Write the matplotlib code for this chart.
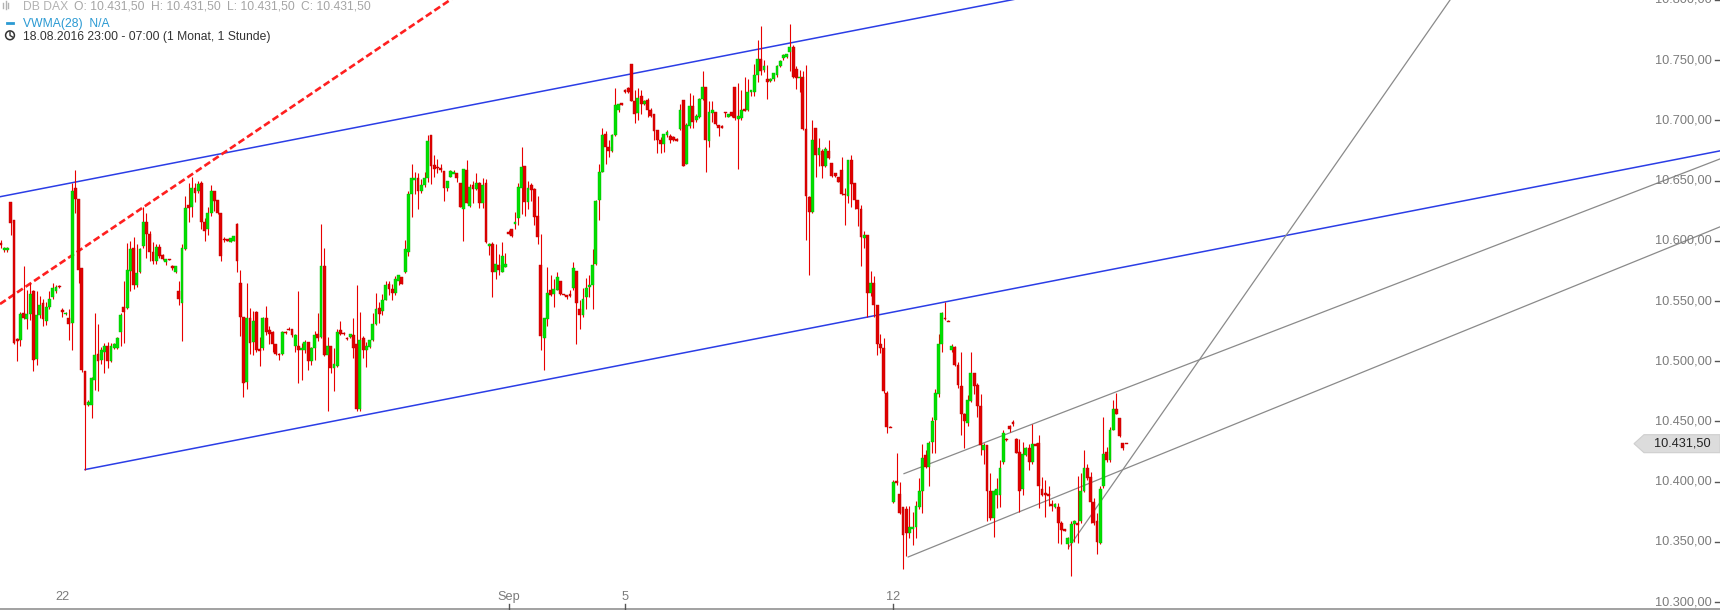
import matplotlib
matplotlib.use('Agg')
import matplotlib.pyplot as plt
import numpy as np
from matplotlib.patches import Polygon, Circle
from matplotlib.lines import Line2D
from matplotlib.transforms import blended_transform_factory, IdentityTransform

plt.rcParams['font.family'] = ['Liberation Sans', 'DejaVu Sans']
plt.rcParams['lines.scale_dashes'] = False

# hourly candles, DB DAX, 19.08. - 16.09.2016
opens = [
    10598, 10592, 10592, 10632, 10617, 10518, 10518, 10540, 10535, 10539,
    10558, 10502, 10538, 10548, 10533, 10545, 10553, 10558, 10562, 10542,
    10539, 10536, 10532, 10644, 10635, 10577, 10492, 10464, 10464, 10484,
    10506, 10501, 10508, 10513, 10500, 10511, 10511, 10524, 10545, 10544,
    10575, 10594, 10563, 10574, 10596, 10616, 10606, 10591, 10583, 10595,
    10588, 10582, 10585, 10579, 10574, 10558, 10548, 10593, 10630, 10628,
    10644, 10641, 10648, 10616, 10610, 10623, 10641, 10634, 10623, 10601,
    10601, 10599, 10600, 10614, 10565, 10537, 10483, 10536, 10516, 10541,
    10510, 10511, 10536, 10526, 10524, 10514, 10506, 10506, 10524, 10527,
    10527, 10513, 10513, 10509, 10509, 10516, 10500, 10511, 10523, 10520,
    10579, 10505, 10513, 10494, 10496, 10526, 10523, 10519, 10520, 10522,
    10514, 10460, 10519, 10509, 10512, 10518, 10531, 10544, 10542, 10551,
    10564, 10560, 10557, 10567, 10570, 10574, 10591, 10639, 10651, 10652,
    10641, 10646, 10652, 10688, 10663, 10661, 10660, 10658, 10644, 10653,
    10656, 10656, 10648, 10626, 10659, 10629, 10646, 10643, 10648, 10631,
    10648, 10596, 10597, 10574, 10580, 10574, 10578, 10607, 10610, 10614,
    10619, 10644, 10662, 10632, 10646, 10643, 10621, 10580, 10519, 10535,
    10559, 10556, 10559, 10567, 10556, 10554, 10556, 10561, 10575, 10543,
    10538, 10553, 10562, 10563, 10581, 10634, 10657, 10689, 10678, 10675,
    10688, 10709, 10714, 10725, 10727, 10747, 10716, 10706, 10720, 10714,
    10717, 10709, 10705, 10692, 10684, 10680, 10688, 10687, 10686, 10684,
    10693, 10717, 10664, 10695, 10712, 10700, 10703, 10718, 10728, 10683,
    10706, 10707, 10696, 10695, 10707, 10703, 10707, 10728, 10701, 10702,
    10709, 10709, 10724, 10724, 10738, 10751, 10742, 10734, 10733, 10734,
    10738, 10745, 10752, 10753, 10757, 10761, 10743, 10735, 10736, 10693,
    10636, 10624, 10694, 10671, 10675, 10662, 10675, 10665, 10656, 10653,
    10659, 10639, 10637, 10667, 10648, 10634, 10626, 10602, 10605, 10557,
    10565, 10547, 10514, 10511, 10474, 10445, 10383, 10400, 10390, 10379,
    10377, 10357, 10361, 10362, 10379, 10392, 10422, 10412, 10433, 10451,
    10473, 10514, 10536, 10533, 10509, 10512, 10497, 10479, 10456, 10449,
    10467, 10490, 10480, 10463, 10426, 10430, 10392, 10370, 10389, 10389,
    10416, 10435, 10446, 10449, 10435, 10425, 10394, 10422, 10428, 10416,
    10431, 10432, 10394, 10390, 10390, 10381, 10379, 10379, 10366, 10360,
    10348, 10349, 10365, 10366, 10367, 10392, 10411, 10404, 10383, 10367,
    10349, 10396, 10425, 10418, 10443, 10460, 10453, 10432, 10431.5,
]
highs = [
    10601, 10595, 10595, 10632, 10617, 10519, 10541, 10579, 10559, 10565,
    10559, 10558, 10554, 10552, 10549, 10558, 10565, 10563, 10563, 10544,
    10541, 10543, 10648, 10659, 10635, 10577, 10492, 10468, 10487, 10540,
    10531, 10512, 10515, 10516, 10515, 10515, 10520, 10540, 10567, 10598,
    10600, 10603, 10597, 10594, 10628, 10623, 10608, 10599, 10597, 10597,
    10589, 10585, 10585, 10580, 10579, 10567, 10597, 10637, 10648, 10653,
    10648, 10650, 10650, 10619, 10628, 10646, 10641, 10634, 10623, 10603,
    10601, 10602, 10604, 10615, 10576, 10537, 10565, 10544, 10542, 10542,
    10520, 10537, 10546, 10529, 10525, 10514, 10507, 10525, 10525, 10528,
    10527, 10523, 10558, 10515, 10518, 10516, 10512, 10525, 10540, 10614,
    10594, 10520, 10513, 10511, 10527, 10533, 10524, 10520, 10523, 10536,
    10563, 10541, 10521, 10516, 10518, 10540, 10557, 10549, 10556, 10567,
    10567, 10564, 10571, 10572, 10570, 10601, 10641, 10664, 10657, 10656,
    10651, 10657, 10688, 10688, 10671, 10668, 10664, 10658, 10650, 10659,
    10659, 10656, 10648, 10660, 10667, 10647, 10650, 10656, 10649, 10652,
    10651, 10598, 10599, 10597, 10589, 10599, 10590, 10609, 10610, 10624,
    10648, 10678, 10662, 10650, 10648, 10644, 10637, 10606, 10536, 10578,
    10572, 10568, 10574, 10567, 10556, 10555, 10559, 10582, 10575, 10551,
    10561, 10569, 10572, 10593, 10634, 10664, 10694, 10691, 10684, 10689,
    10727, 10714, 10714, 10726, 10728, 10747, 10725, 10727, 10725, 10717,
    10719, 10710, 10705, 10692, 10686, 10689, 10692, 10689, 10687, 10685,
    10714, 10717, 10698, 10723, 10721, 10705, 10719, 10741, 10728, 10716,
    10716, 10707, 10696, 10696, 10707, 10705, 10707, 10728, 10731, 10725,
    10736, 10734, 10725, 10747, 10767, 10778, 10750, 10746, 10735, 10739,
    10746, 10750, 10755, 10755, 10780, 10763, 10745, 10742, 10741, 10746,
    10637, 10700, 10694, 10685, 10676, 10678, 10684, 10665, 10656, 10653,
    10670, 10644, 10667, 10671, 10648, 10634, 10630, 10608, 10605, 10575,
    10571, 10547, 10523, 10519, 10475, 10446, 10401, 10424, 10400, 10379,
    10380, 10380, 10375, 10384, 10403, 10431, 10426, 10434, 10454, 10477,
    10523, 10541, 10549, 10534, 10514, 10513, 10499, 10508, 10457, 10472,
    10508, 10490, 10482, 10473, 10432, 10430, 10407, 10393, 10403, 10418,
    10443, 10436, 10447, 10451, 10436, 10435, 10433, 10429, 10431, 10448,
    10432, 10439, 10404, 10401, 10396, 10385, 10382, 10382, 10367, 10361,
    10354, 10367, 10368, 10405, 10407, 10426, 10415, 10408, 10386, 10374,
    10396, 10454, 10429, 10445, 10468, 10474, 10453, 10432, 10431.5,
]
lows = [
    10594, 10591, 10591, 10605, 10514, 10500, 10513, 10535, 10527, 10534,
    10492, 10497, 10536, 10529, 10530, 10543, 10552, 10557, 10561, 10537,
    10538, 10518, 10509, 10623, 10565, 10491, 10410, 10463, 10453, 10476,
    10475, 10498, 10490, 10494, 10499, 10510, 10510, 10513, 10515, 10543,
    10558, 10560, 10562, 10573, 10594, 10586, 10583, 10581, 10581, 10586,
    10584, 10580, 10584, 10576, 10573, 10547, 10517, 10592, 10616, 10620,
    10632, 10640, 10610, 10600, 10605, 10621, 10625, 10622, 10583, 10599,
    10600, 10599, 10600, 10574, 10521, 10470, 10477, 10506, 10505, 10508,
    10496, 10509, 10522, 10514, 10508, 10505, 10501, 10505, 10523, 10526,
    10520, 10508, 10482, 10484, 10507, 10493, 10497, 10501, 10517, 10519,
    10504, 10459, 10490, 10475, 10495, 10522, 10522, 10518, 10519, 10503,
    10459, 10459, 10503, 10495, 10511, 10517, 10530, 10532, 10538, 10551,
    10555, 10551, 10555, 10563, 10564, 10573, 10587, 10620, 10639, 10626,
    10640, 10645, 10649, 10647, 10653, 10656, 10657, 10633, 10641, 10653,
    10656, 10649, 10628, 10600, 10631, 10628, 10631, 10642, 10627, 10627,
    10598, 10588, 10553, 10568, 10572, 10574, 10578, 10606, 10603, 10610,
    10613, 10622, 10621, 10626, 10633, 10613, 10597, 10509, 10493, 10529,
    10554, 10545, 10559, 10555, 10555, 10552, 10553, 10559, 10514, 10527,
    10537, 10543, 10553, 10543, 10580, 10617, 10657, 10664, 10670, 10674,
    10687, 10707, 10713, 10723, 10723, 10716, 10698, 10700, 10705, 10713,
    10703, 10703, 10684, 10673, 10673, 10674, 10686, 10681, 10683, 10683,
    10692, 10662, 10664, 10694, 10694, 10699, 10702, 10717, 10657, 10678,
    10699, 10696, 10687, 10694, 10703, 10703, 10703, 10700, 10660, 10700,
    10708, 10708, 10720, 10720, 10732, 10738, 10740, 10718, 10732, 10733,
    10736, 10744, 10750, 10752, 10741, 10735, 10726, 10724, 10692, 10601,
    10572, 10623, 10653, 10662, 10652, 10661, 10668, 10653, 10653, 10649,
    10638, 10613, 10631, 10628, 10626, 10612, 10579, 10594, 10537, 10554,
    10537, 10505, 10507, 10474, 10440, 10445, 10382, 10397, 10373, 10327,
    10338, 10353, 10347, 10353, 10377, 10374, 10411, 10396, 10424, 10424,
    10470, 10508, 10534, 10533, 10508, 10496, 10478, 10439, 10428, 10446,
    10466, 10473, 10454, 10422, 10415, 10367, 10368, 10354, 10378, 10379,
    10415, 10434, 10441, 10446, 10424, 10375, 10389, 10421, 10410, 10415,
    10430, 10378, 10388, 10371, 10380, 10376, 10378, 10349, 10348, 10359,
    10344, 10322, 10350, 10349, 10366, 10391, 10401, 10366, 10364, 10340,
    10348, 10395, 10416, 10416, 10443, 10456, 10437, 10426, 10431.5,
]
closes = [
    10597, 10594, 10594, 10615, 10515, 10517, 10539, 10536, 10539, 10556,
    10501, 10538, 10547, 10535, 10545, 10552, 10561, 10562, 10562, 10541,
    10540, 10531, 10641, 10635, 10576, 10493, 10464, 10466, 10486, 10505,
    10500, 10509, 10513, 10500, 10513, 10514, 10519, 10538, 10541, 10576,
    10593, 10563, 10573, 10593, 10616, 10606, 10591, 10583, 10595, 10587,
    10585, 10585, 10584, 10577, 10579, 10552, 10594, 10627, 10627, 10644,
    10640, 10647, 10616, 10608, 10623, 10641, 10633, 10623, 10587, 10601,
    10600, 10602, 10604, 10583, 10537, 10482, 10536, 10515, 10533, 10509,
    10509, 10536, 10524, 10523, 10514, 10506, 10505, 10524, 10524, 10526,
    10522, 10522, 10509, 10511, 10516, 10500, 10511, 10522, 10519, 10579,
    10505, 10513, 10494, 10498, 10524, 10523, 10523, 10519, 10523, 10511,
    10460, 10518, 10509, 10513, 10518, 10531, 10543, 10539, 10551, 10563,
    10560, 10557, 10568, 10572, 10564, 10593, 10639, 10652, 10652, 10641,
    10646, 10652, 10683, 10662, 10660, 10661, 10659, 10644, 10650, 10658,
    10657, 10652, 10628, 10660, 10631, 10645, 10643, 10648, 10631, 10646,
    10599, 10597, 10574, 10581, 10576, 10587, 10581, 10606, 10604, 10616,
    10645, 10661, 10632, 10644, 10642, 10620, 10603, 10521, 10536, 10557,
    10555, 10560, 10570, 10556, 10555, 10554, 10554, 10577, 10548, 10538,
    10552, 10561, 10563, 10580, 10633, 10657, 10688, 10678, 10675, 10688,
    10713, 10714, 10713, 10724, 10724, 10716, 10705, 10719, 10714, 10716,
    10709, 10704, 10691, 10684, 10680, 10689, 10690, 10684, 10684, 10683,
    10709, 10662, 10696, 10712, 10699, 10704, 10718, 10728, 10684, 10707,
    10709, 10697, 10694, 10694, 10706, 10705, 10704, 10702, 10704, 10709,
    10708, 10724, 10725, 10738, 10751, 10741, 10745, 10732, 10734, 10739,
    10745, 10749, 10754, 10755, 10761, 10736, 10735, 10736, 10693, 10637,
    10624, 10684, 10671, 10677, 10662, 10676, 10669, 10654, 10654, 10649,
    10639, 10638, 10667, 10647, 10634, 10626, 10603, 10605, 10557, 10565,
    10547, 10514, 10511, 10475, 10445, 10445, 10400, 10399, 10374, 10356,
    10357, 10362, 10362, 10380, 10392, 10420, 10412, 10432, 10450, 10474,
    10514, 10540, 10535, 10533, 10513, 10497, 10480, 10456, 10450, 10468,
    10490, 10479, 10463, 10430, 10430, 10392, 10370, 10392, 10394, 10411,
    10440, 10435, 10444, 10448, 10424, 10392, 10423, 10428, 10416, 10431,
    10430, 10396, 10389, 10389, 10388, 10380, 10381, 10366, 10360, 10360,
    10353, 10365, 10367, 10364, 10392, 10411, 10403, 10383, 10366, 10350,
    10394, 10423, 10418, 10443, 10460, 10456, 10438, 10428, 10431.5,
]

# x-axis: candle index of the first bar of the labelled days
date_ticks = [19, 157, 193, 276]
date_labels = ['22', 'Sep', '5', '12']
date_tick_marks = [157, 193, 276]

price_levels = list(range(10300, 10801, 50))
last_price = 10431.5

# drawn trend lines: start (index, price) and a second point on the line
trend_start = [(-0.31, 10636.6), (26, 10410.0), (-0.31, 10547.5),
               (330.4, 10346.0), (279.3, 10406.6), (280.6, 10337.4)]
trend_through = [(312.4, 10800.0), (531.7, 10674.7), (138.9, 10800.0),
                 (448.2, 10800.0), (531.7, 10668.0), (531.7, 10611.6)]
trend_colors = ['#2b3de6', '#2b3de6', '#ff1f1f', '#8a8a8a', '#8a8a8a', '#8a8a8a']
trend_styles = ['-', '-', '--', '-', '-', '-']

W, H = 1720, 610
fig = plt.figure(figsize=(W / 100, H / 100), dpi=100)
ax = fig.add_axes([0, 0, 1, 1])
X0, X1 = -0.31, 531.7
ax.set_xlim(X0, X1)
ax.set_ylim(10293.36, 10800)
ax.axis('off')


def fx(x):
    return x / W


def fy(y):
    return 1 - y / H


def price_fmt(p):
    whole = int(p)
    cents = int(round((p - whole) * 100))
    return '{}.{:03d},{:02d}'.format(whole // 1000, whole % 1000, cents)


o = np.array(opens, float)
h = np.array(highs, float)
l = np.array(lows, float)
c = np.array(closes, float)
idx = np.arange(len(o))
up = c > o

# trend lines below the candles
for (i0, p0), (i1, p1), col, ls in zip(trend_start, trend_through, trend_colors, trend_styles):
    slope = (p1 - p0) / (i1 - i0)
    xe = X1 + 1
    ye = p0 + slope * (xe - i0)
    if ls == '--':
        ax.plot([i0, xe], [p0, ye], color=col, lw=1.9, dashes=(5, 2.4), zorder=1)
    elif col == '#8a8a8a':
        ax.plot([i0, xe], [p0, ye], color=col, lw=0.9, zorder=1)
    else:
        ax.plot([i0, xe], [p0, ye], color=col, lw=1.1, zorder=1)

# wicks (always red) and bodies
ax.vlines(idx, l, h, color='#e80000', linewidth=0.8, zorder=2)
diff = np.abs(c - o)
minh = 1.3
body_h = np.maximum(diff, minh)
body_lo = np.minimum(o, c) - (body_h - diff) / 2
ax.bar(idx[up], body_h[up], bottom=body_lo[up], width=0.88, color='#00e000',
       edgecolor='#00b800', linewidth=0.3, zorder=3)
ax.bar(idx[~up], body_h[~up], bottom=body_lo[~up], width=0.88, color='#e00000',
       edgecolor='#c00000', linewidth=0.3, zorder=3)

# right price scale
blend_y = blended_transform_factory(ax.transAxes, ax.transData)
for p in price_levels:
    ax.text(1712 / W, p, price_fmt(p), transform=blend_y, ha='right', va='center',
            color='#7b7b7b', fontsize=9.2, zorder=5, clip_on=False)
    ax.plot([1715 / W, 1720 / W], [p, p], transform=blend_y, color='#555555',
            lw=1, zorder=5, clip_on=False)

# last price tag
yc = 602 - (last_price - 10300) * 1.204
tag = Polygon([(fx(1634), fy(yc)), (fx(1644), fy(yc - 9)), (fx(1720), fy(yc - 9)),
               (fx(1720), fy(yc + 9)), (fx(1644), fy(yc + 9))], closed=True,
              transform=fig.transFigure, facecolor='#dcdcdc', edgecolor='#cfcfcf', lw=0.8, zorder=6)
fig.patches.append(tag)
fig.text(fx(1682), fy(yc), price_fmt(last_price), ha='center', va='center',
         color='#222222', fontsize=9.2, zorder=7)

# bottom time axis
blend_x = blended_transform_factory(ax.transData, ax.transAxes)
ax.plot([0, 1], [1.2 / H, 1.2 / H], transform=ax.transAxes, color='#9a9a9a', lw=1.3, clip_on=False)
for t, lab in zip(date_ticks, date_labels):
    ax.text(t, (H - 597) / H, lab, transform=blend_x, ha='center', va='center',
            color='#7b7b7b', fontsize=9.2)
for t in date_tick_marks:
    ax.plot([t, t], [1.2 / H, 6 / H], transform=blend_x, color='#555555', lw=1, clip_on=False)

# header
gray = '#b2b2b2'
for bx, bh in [(3, 5), (5.5, 8), (8, 5)]:
    fig.lines.append(Line2D([fx(bx), fx(bx)], [fy(5 - bh / 2), fy(5 + bh / 2)],
                            transform=fig.transFigure, color=gray, lw=1))
fig.text(fx(23), fy(9.6), 'DB DAX', color=gray, fontsize=8.7, va='baseline')
for xx, lab in zip([74, 151, 227, 301], ['O', 'H', 'L', 'C']):
    fig.text(fx(xx), fy(9.6), '{}: {}'.format(lab, price_fmt(last_price)), color='#a5a5a5',
             fontsize=8.7, va='baseline')
fig.lines.append(Line2D([fx(7), fx(13)], [fy(22.8), fy(22.8)], transform=fig.transFigure,
                        color='#2b9ad3', lw=2))
fig.text(fx(23), fy(27), 'VWMA(28)  N/A', color='#2b9ad3', fontsize=8.7, va='baseline')
clock = Circle((10, H - 35.3), 4.4, transform=IdentityTransform(), fill=False,
               edgecolor='#333333', lw=1.1)
fig.patches.append(clock)
fig.lines.append(Line2D([10, 10, 12.5], [H - 32, H - 35.5, H - 37], transform=IdentityTransform(),
                        color='#333333', lw=1))
fig.text(fx(23), fy(39.6), '18.08.2016 23:00 - 07:00 (1 Monat, 1 Stunde)',
         color='#333333', fontsize=8.7, va='baseline')

fig.savefig('out.png', dpi=100, facecolor='white')
